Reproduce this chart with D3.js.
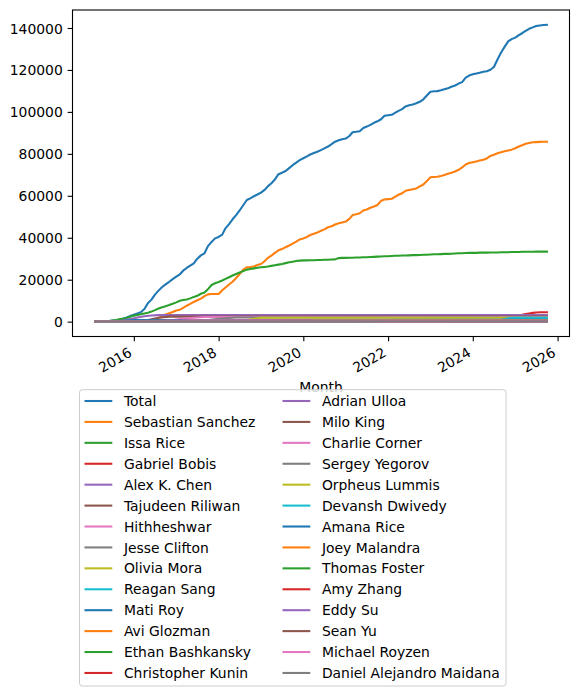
<!DOCTYPE html>
<html><head><meta charset="utf-8">
<script src="https://cdn.jsdelivr.net/npm/d3@7"></script>
<style>body{margin:0;background:#fff} text{font-family:"DejaVu Sans",sans-serif}</style>
</head><body><svg id="c" width="578" height="696"></svg>
<script>
const firstMonth = "2015-02-01", lastMonth = "2025-10-01";
const seriesNames = ["Total","Sebastian Sanchez","Issa Rice","Gabriel Bobis","Alex K. Chen","Tajudeen Riliwan","Hithheshwar","Jesse Clifton","Olivia Mora","Reagan Sang","Mati Roy","Avi Glozman","Ethan Bashkansky","Christopher Kunin","Adrian Ulloa","Milo King","Charlie Corner","Sergey Yegorov","Orpheus Lummis","Devansh Dwivedy","Amana Rice","Joey Malandra","Thomas Foster","Amy Zhang","Eddy Su","Sean Yu","Michael Royzen","Daniel Alejandro Maidana"];
const totalValues = [
 0,50,100,200,300,500,700,1000,1500,2000,2700,
 3300,3900,4500,6000,8800,10500,12900,14800,16500,17800,19000,20300,
 21500,22600,24300,25600,26700,27800,30000,31600,32600,36000,38000,39700,
 40400,41500,44500,46500,48800,50800,53000,55500,58000,58800,59800,60600,
 61500,62800,64500,66000,67800,70300,71000,71800,73200,74600,75800,77000,
 77900,78800,79700,80400,81000,81800,82600,83500,84600,85800,86500,87000,
 87300,88500,90300,90500,90800,92300,93000,93800,94800,95500,96500,98200,
 98400,98600,99500,100500,101300,102600,103200,103500,104100,104800,106000,107800,
 109600,109800,109900,110300,110800,111300,112000,112600,113500,114200,116300,117300,
 117900,118300,118700,119100,119400,120100,121400,125000,128300,131000,133600,134700,
 135400,136600,137500,138600,139600,140300,140900,141200,141400,141500];
const sebastianValues = [
 0,0,0,0,0,0,0,0,0,0,0,
 0,0,0,0,100,400,900,1800,2600,3400,4000,4600,
 5300,5700,6600,7600,8500,9400,10200,11000,12200,13000,13200,13200,
 13200,15000,16300,17700,19000,20800,22700,24800,25900,26000,26300,27000,
 27500,28800,30400,31500,32800,34000,34600,35500,36300,37200,38200,39200,
 39700,40400,41300,41900,42500,43300,44000,45000,45500,46300,46900,47300,
 47700,49000,50800,51200,51700,53000,53500,54300,54900,55600,57600,58200,
 58400,58600,59500,60500,61200,62400,62800,63100,63500,64500,65400,67000,
 68800,69000,69100,69400,69900,70500,71000,71600,72400,73500,74900,75600,
 76000,76400,76800,77200,77800,79000,79600,80300,80800,81200,81600,82000,
 82700,83500,84100,84800,85200,85500,85600,85700,85800,85800];
const issaValues = [
 0,50,100,200,350,550,800,1100,1400,1800,2300,
 2800,3200,3500,3900,4300,4800,5500,6300,6900,7400,7900,8500,
 9200,10000,10300,10600,11100,11800,12300,13300,13900,15500,17500,18300,
 18900,19600,20400,21200,22000,22700,23400,24100,24800,25100,25400,25700,
 25900,26100,26300,26600,26900,27200,27500,27900,28300,28600,28900,29100,
 29200,29200,29300,29300,29400,29400,29500,29500,29600,29700,30300,30400,
 30400,30500,30500,30600,30600,30700,30700,30800,30900,31000,31100,31200,
 31200,31300,31400,31400,31500,31500,31600,31700,31700,31800,31900,31900,
 32000,32100,32100,32200,32300,32300,32400,32500,32600,32600,32700,32800,
 32800,32800,32900,32900,32900,33000,33000,33000,33100,33100,33100,33200,
 33200,33200,33300,33300,33300,33300,33400,33400,33400,33400];
// remaining contributors, cumulative values at listed months (legend order from Gabriel Bobis on)
const smallSeries = [
 [["2015-02",0],["2024-08",0],["2024-09",600],["2024-10",1500],["2024-11",2200],["2024-12",2700],["2025-01",2900],["2025-02",3100],["2025-03",3300],["2025-04",3600],["2025-05",3900],["2025-06",4200],["2025-07",4400],["2025-08",4500],["2025-10",4500]],
 [["2015-02",0],["2015-08",100],["2015-10",500],["2015-12",1200],["2016-02",2000],["2016-04",2600],["2016-06",2900],["2016-08",3100],["2025-10",3100]],
 [["2015-02",0],["2016-02",0],["2016-05",800],["2016-08",1900],["2016-11",2400],["2025-10",2400]],
 [["2015-02",0],["2016-09",0],["2017-03",1500],["2017-09",2200],["2025-10",2200]],
 [["2015-02",0],["2017-06",0],["2018-01",1400],["2018-06",2000],["2025-10",2000]],
 [["2015-02",0],["2018-06",0],["2019-01",1900],["2025-10",1900]],
 [["2015-02",0],["2024-07",0],["2024-09",800],["2024-11",1600],["2025-01",1800],["2025-10",1800]],
 [["2015-02",0],["2015-09",300],["2016-01",800],["2025-10",900]],
 [["2015-02",0],["2016-12",0],["2017-06",800],["2025-10",800]],
 [["2015-02",0],["2017-03",0],["2017-09",700],["2025-10",700]],
 [["2015-02",0],["2018-01",0],["2018-06",650],["2025-10",650]],
 [["2015-02",0],["2016-06",0],["2016-10",600],["2025-10",600]],
 [["2015-02",0],["2019-01",0],["2019-05",550],["2025-10",550]],
 [["2015-02",0],["2017-01",0],["2017-05",500],["2025-10",500]],
 [["2015-02",0],["2015-11",0],["2016-04",450],["2024-06",450],["2024-08",450],["2025-10",450]],
 [["2015-02",0],["2020-01",0],["2020-04",400],["2025-10",400]],
 [["2015-02",0],["2024-06",0],["2024-09",350],["2025-10",350]],
 [["2015-02",0],["2018-09",0],["2018-12",300],["2025-10",300]],
 [["2015-02",0],["2021-02",0],["2021-05",250],["2025-10",250]],
 [["2015-02",0],["2019-06",0],["2019-09",200],["2025-10",200]],
 [["2015-02",0],["2025-01",0],["2025-04",150],["2025-10",150]],
 [["2015-02",0],["2022-03",0],["2022-06",120],["2025-10",120]],
 [["2015-02",0],["2020-08",0],["2020-11",100],["2025-10",100]],
 [["2015-02",0],["2023-04",0],["2023-07",80],["2025-10",80]],
 [["2015-02",0],["2021-09",0],["2021-12",60],["2025-10",60]]
];
const yTicks = [0,20000,40000,60000,80000,100000,120000,140000];
const xTickYears = [2016,2018,2020,2022,2024,2026];
const palette = ["#1f77b4","#ff7f0e","#2ca02c","#d62728","#9467bd","#8c564b","#e377c2","#7f7f7f","#bcbd22","#17becf"];

const svg = d3.select("#c");
const L = 72.5, R = 569.5, T = 10, B = 336.5;
const FS = 13.9;
const parseM = d3.utcParse("%Y-%m");
const start = new Date(firstMonth), end = new Date(lastMonth);
const months = d3.utcMonth.range(start, d3.utcMonth.offset(end, 1));

const series = [];
[totalValues, sebastianValues, issaValues].forEach((vals, k) => {
  series.push({name: seriesNames[k], pts: months.map((d, i) => ({date: d, value: vals[i]}))});
});
smallSeries.forEach((steps, k) => {
  series.push({name: seriesNames[k + 3], pts: steps.map(([m, v]) => ({date: parseM(m), value: v}))});
});

const span = end - start;
const x = d3.scaleUtc().domain([new Date(+start - 0.05 * span), new Date(+end + 0.05 * span)]).range([L, R]);
const allVals = series.flatMap(s => s.pts.map(p => p.value));
const vmin = d3.min(allVals), vmax = d3.max(allVals), vpad = 0.05 * (vmax - vmin);
const y = d3.scaleLinear().domain([vmin - vpad, vmax + vpad]).range([B, T]);

const plot = svg.append("g");
plot.append("defs").append("clipPath").attr("id", "clip").append("rect")
  .attr("x", L).attr("y", T).attr("width", R - L).attr("height", B - T);
const line = d3.line().x(p => x(p.date)).y(p => y(p.value));
const lines = plot.append("g").attr("clip-path", "url(#clip)");
series.forEach((s, i) => {
  lines.append("path").attr("d", line(s.pts)).attr("fill", "none")
    .attr("stroke", palette[i % 10]).attr("stroke-width", 2.08)
    .attr("stroke-linejoin", "round").attr("stroke-linecap", "square");
});

// axes
const tickLen = 4.86, tickPad = 4.86;
const yAxis = svg.append("g").attr("transform", `translate(${L},0)`)
  .call(d3.axisLeft(y).tickValues(yTicks).tickSize(tickLen).tickPadding(tickPad).tickFormat(d3.format("d")));
yAxis.select(".domain").remove();
yAxis.selectAll("line").attr("stroke", "#000").attr("stroke-width", 1.1);
yAxis.selectAll("text").attr("font-size", FS).attr("fill", "#000").attr("dy", "0.36em")
  .style("font-family", "DejaVu Sans");

const xAxis = svg.append("g").attr("transform", `translate(0,${B})`)
  .call(d3.axisBottom(x).tickValues(xTickYears.map(yr => new Date(Date.UTC(yr, 0, 1)))).tickSize(tickLen).tickFormat(d3.utcFormat("%Y")));
xAxis.select(".domain").remove();
xAxis.selectAll("line").attr("stroke", "#000").attr("stroke-width", 1.1);
xAxis.selectAll("text").attr("font-size", FS).attr("fill", "#000")
  .attr("y", null).attr("dy", null).attr("text-anchor", "end")
  .attr("transform", `translate(-1.45,${tickLen + tickPad + 9.15}) rotate(-30)`)
  .style("font-family", "DejaVu Sans");

svg.append("rect").attr("x", L).attr("y", T).attr("width", R - L).attr("height", B - T)
  .attr("fill", "none").attr("stroke", "#000").attr("stroke-width", 1.1);

svg.append("text").attr("x", (L + R) / 2).attr("y", 392).attr("text-anchor", "middle")
  .attr("font-size", FS).text("Month");

// legend
const lg = svg.append("g");
lg.append("rect").attr("x", 79.5).attr("y", 389.7).attr("width", 426.5).attr("height", 296.3)
  .attr("rx", 2.8).attr("fill", "#fff").attr("fill-opacity", 0.8)
  .attr("stroke", "#cccccc").attr("stroke-width", 1);
const rows = 14, rowH = 20.92, row0 = 401;
const colX = [84.5, 282.5];
seriesNames.forEach((n, i) => {
  const c = Math.floor(i / rows), r = i % rows;
  const yy = row0 + r * rowH;
  lg.append("line").attr("x1", colX[c]).attr("x2", colX[c] + 27.8).attr("y1", yy).attr("y2", yy)
    .attr("stroke", palette[i % 10]).attr("stroke-width", 2.08);
  lg.append("text").attr("x", colX[c] + 27.8 + 11.6).attr("y", yy + 5.1)
    .attr("font-size", FS).attr("fill", "#000").text(n);
});
</script></body></html>
